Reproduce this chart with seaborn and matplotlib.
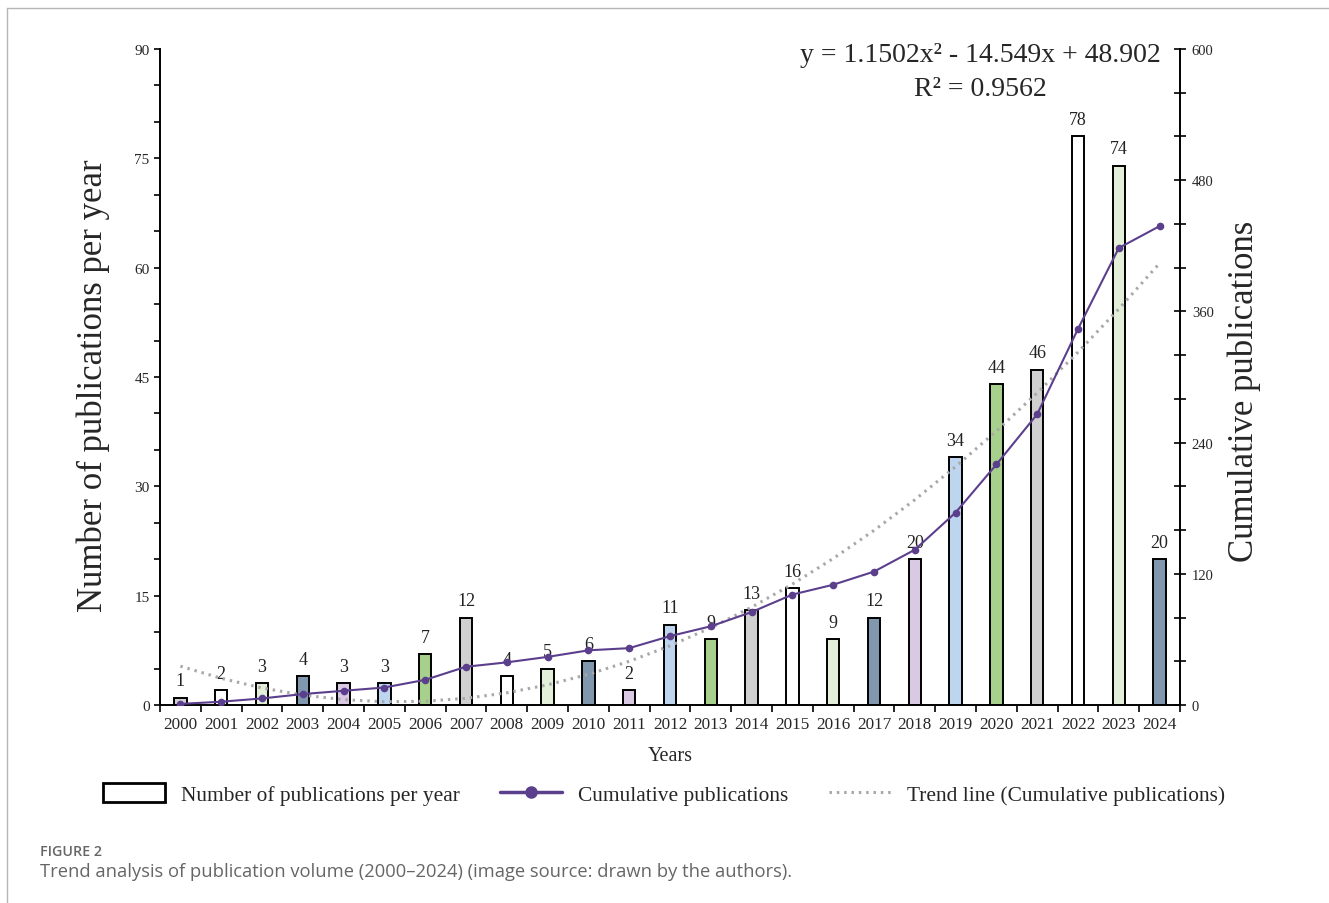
import numpy as np
import pandas as pd
import seaborn as sns
import matplotlib.pyplot as plt
from matplotlib.lines import Line2D
from matplotlib.patches import Rectangle
from matplotlib.ticker import MultipleLocator

# data
years = [str(y) for y in range(2000, 2025)]
counts = [1, 2, 3, 4, 3, 3, 7, 12, 4, 5, 6, 2, 11, 9, 13, 16, 9, 12, 20, 34, 44, 46, 78, 74, 20]
cumulative = list(np.cumsum(counts))
# quadratic trend as printed on the chart (x = 1..25)
trend_a, trend_b, trend_c = 1.1502, -14.549, 48.902
r_squared = 0.9562

bar_cycle = ['#d0d0d0', '#ffffff', '#e3efd9', '#8197ad', '#d9c9e3', '#bdd5ee', '#a8d08d']
bar_colors = [bar_cycle[i % 7] for i in range(len(years))]
line_color = '#5b3f8c'
trend_color = '#a8a8a8'

sns.set_theme(style='white')
plt.rcParams['font.family'] = ['Liberation Serif', 'DejaVu Serif']

df = pd.DataFrame({'year': years, 'count': counts, 'cum': cumulative})
pos = np.arange(len(years))
trend = trend_a * (pos + 1) ** 2 + trend_b * (pos + 1) + trend_c

fig = plt.figure(figsize=(13.29, 9.04), dpi=100)
ax = fig.add_axes([160 / 1329, 1 - 706 / 904, 1020 / 1329, 656 / 904])

sns.barplot(data=df, x='year', y='count', hue='year', palette=bar_colors, legend=False,
            width=0.3, saturation=1, edgecolor='black', linewidth=1.4, ax=ax)
for cont in ax.containers:
    ax.bar_label(cont, padding=6, fontsize=13, color='#222222')

ax.set_xlim(-0.5, len(years) - 0.5)
ax.set_ylim(0, 90)
ax.yaxis.set_major_locator(MultipleLocator(15))
ax.yaxis.set_minor_locator(MultipleLocator(5))
ax.set_xticks(pos)
ax.set_xticklabels(years, fontsize=12.3)
ax.set_xticks(np.arange(-0.5, len(years), 1), minor=True)
ax.tick_params(axis='x', which='major', length=0, pad=8)
ax.tick_params(axis='x', which='minor', length=5, width=1.2, direction='out', color='black')
ax.tick_params(axis='y', which='both', length=4, width=1.2, direction='out', color='black', labelsize=11)
ax.tick_params(axis='y', which='both', left=True)
ax.tick_params(axis='x', which='both', bottom=True)
for s in ['left', 'bottom']:
    ax.spines[s].set_color('black')
    ax.spines[s].set_linewidth(1.4)
ax.spines['top'].set_visible(False)
ax.spines['right'].set_visible(False)
ax.set_ylabel('Number of publications per year', fontsize=25)
ax.yaxis.set_label_coords(-0.049, 0.489)
ax.set_xlabel('Years', fontsize=14.5, labelpad=10)

ax2 = ax.twinx()
ax2.plot(pos, trend, color=trend_color, linewidth=2.2, dashes=(0.8, 1.6), zorder=2)
sns.lineplot(x=pos, y=cumulative, ax=ax2, color=line_color, linewidth=1.5,
             marker='o', markersize=5.5, markeredgewidth=0, zorder=3)
ax2.set_ylim(0, 600)
ax2.yaxis.set_major_locator(MultipleLocator(120))
ax2.yaxis.set_minor_locator(MultipleLocator(40))
ax2.tick_params(axis='y', which='both', right=True, direction='inout', length=9, width=1.2,
                color='black', labelsize=10.5, pad=4)
for s in ['left', 'bottom', 'top']:
    ax2.spines[s].set_visible(False)
ax2.spines['right'].set_color('black')
ax2.spines['right'].set_linewidth(1.4)
ax2.set_ylabel('Cumulative publications', fontsize=25)
ax2.yaxis.set_label_coords(1.047, 0.48)
ax2.grid(False)
ax.grid(False)

fig.text(980 / 1329, 1 - 56 / 904,
         f'y = {trend_a:.4f}x² - {abs(trend_b):.3f}x + {trend_c:.3f}',
         ha='center', va='center', fontsize=20)
fig.text(980 / 1329, 1 - 89 / 904, f'R² = {r_squared}', ha='center', va='center', fontsize=20)

handles = [
    Rectangle((0, 0), 1, 1, facecolor='white', edgecolor='black', linewidth=2),
    Line2D([], [], color=line_color, linewidth=2.5, marker='o', markersize=8),
    Line2D([], [], color=trend_color, linewidth=2.2, dashes=(0.8, 1.6)),
]
labels = ['Number of publications per year', 'Cumulative publications',
          'Trend line (Cumulative publications)']
fig.legend(handles, labels, loc='center', bbox_to_anchor=(664 / 1329, 1 - 795 / 904), ncol=3,
           frameon=False, fontsize=15.4, handlelength=2.9, handleheight=0.95,
           handletextpad=0.75, columnspacing=1.9)

# caption and page frame
fig.text(40 / 1329, 1 - 852 / 904, 'FIGURE 2', fontsize=10.3, color='#666666',
         family=['Open Sans', 'DejaVu Sans'], weight='semibold', va='center')
fig.text(40 / 1329, 1 - 872 / 904,
         'Trend analysis of publication volume (2000\u20132024) (image source: drawn by the authors).',
         fontsize=13.2, color='#666666', family=['Open Sans', 'DejaVu Sans'], va='center')
fig.add_artist(Line2D([7 / 1329, 1], [1 - 9 / 904, 1 - 9 / 904], transform=fig.transFigure,
                      color='#b5b5b5', linewidth=1))
fig.add_artist(Line2D([7 / 1329, 7 / 1329], [0, 1 - 9 / 904], transform=fig.transFigure,
                      color='#b5b5b5', linewidth=1))

fig.savefig('out.png', dpi=100, facecolor='white')
